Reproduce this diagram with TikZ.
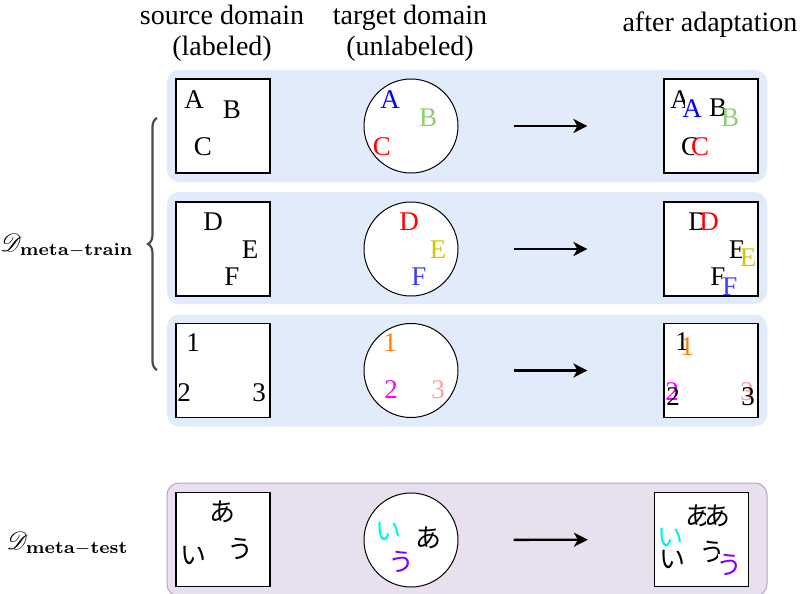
\documentclass[tikz,border=0pt]{standalone}
\usepackage[no-math]{fontspec}
\setmainfont{Liberation Serif}
\newfontfamily\jpfont{Noto Sans CJK JP}
\usepackage{amsmath,mathrsfs}
\usetikzlibrary{arrows.meta,decorations.pathreplacing}
\definecolor{bandblue}{RGB}{226,235,250}
\definecolor{bandviolet}{RGB}{232,224,238}
\definecolor{bandedge}{RGB}{185,162,200}
\definecolor{letgreen}{RGB}{140,208,110}
\definecolor{letyellow}{RGB}{210,200,0}
\definecolor{letblue}{RGB}{60,60,255}
\definecolor{letpink}{RGB}{255,160,160}
\definecolor{letviolet}{RGB}{128,0,255}
\definecolor{letcyan}{RGB}{0,240,240}
\definecolor{letmagenta}{RGB}{255,0,255}
\definecolor{letorange}{RGB}{255,128,0}

\begin{document}
\begin{tikzpicture}[x=1pt, y=-1pt,
    band/.style={
        rectangle, rounded corners=12pt, fill=bandblue,
        minimum width=600pt, minimum height=112pt, inner sep=0pt
    },
    domainbox/.style={
        rectangle, draw, line width=1.2pt, fill=white,
        minimum size=94pt, inner sep=0pt
    },
    domaincirc/.style={
        circle, draw, line width=1pt, fill=white,
        minimum size=94pt, inner sep=0pt
    },
    head/.style={inner sep=0pt, font=\fontsize{28}{31}\selectfont},
    lbl/.style={inner sep=0pt, font=\fontsize{27}{31}\selectfont},
    over/.style={lbl, fill=white, inner xsep=-2.5pt, inner ysep=-1pt},
    jp/.style={inner sep=0pt, font=\fontsize{26}{30}\jpfont},
    jpover/.style={jp, fill=white, inner xsep=-2pt},
    arrow/.style={-{Stealth[length=14pt, width=14pt, inset=4pt]}, line width=2.4pt}
]
\useasboundingbox (0,0) rectangle (801,594);

% Column headings
\node[head, align=center] (hsrc) at (222,33) {source domain\\(labeled)};
\node[head, align=center] (htgt) at (410,33) {target domain\\(unlabeled)};
\node[head] (hadapt) at (710,25) {after adaptation};

% Background bands
\node[band] (band1) at (467,126) {};
\node[band] (band2) at (467,248) {};
\node[band] (band3) at (467,370.5) {};
\node[band, fill=bandviolet, draw=bandedge, line width=1pt, minimum height=113pt] (band4) at (467,539.5) {};

% Row 1
\node[domainbox] (s1) at (223,126) {};
\node[domaincirc] (t1) at (411,126) {};
\node[domainbox] (r1) at (711,126) {};
\node[lbl] at (194,100) {A};
\node[lbl] at (232,110) {B};
\node[lbl] at (203,147) {C};
\node[lbl, text=blue] at (390,100) {A};
\node[lbl, text=letgreen] at (428,118) {B};
\node[lbl, text=red] at (382,147) {C};
\node[lbl] at (680,100) {A};
\node[over, text=blue] at (692,109) {A};
\node[lbl] at (718,108) {B};
\node[over, text=letgreen] at (730,118) {B};
\node[lbl] at (690,147) {C};
\node[over, text=red] at (700,147) {C};

% Row 2
\node[domainbox] (s2) at (223,249) {};
\node[domaincirc] (t2) at (411,249) {};
\node[domainbox] (r2) at (711,249) {};
\node[lbl] at (213,222) {D};
\node[lbl] at (250,250) {E};
\node[lbl] at (232,277) {F};
\node[lbl, text=red] at (409,222) {D};
\node[lbl, text=letyellow] at (438,250) {E};
\node[lbl, text=letblue] at (419,277) {F};
\node[lbl] at (698,222) {D};
\node[over, text=red] at (709,222) {D};
\node[lbl] at (737,250) {E};
\node[over, text=letyellow] at (748,258) {E};
\node[lbl] at (718,277) {F};
\node[over, text=letblue] at (730,287) {F};

% Row 3
\node[domainbox] (s3) at (223,370.5) {};
\node[domaincirc] (t3) at (411,370.5) {};
\node[domainbox] (r3) at (711,370.5) {};
\node[lbl] at (193,343) {1};
\node[lbl] at (184,393) {2};
\node[lbl] at (259,393) {3};
\node[lbl, text=letorange] at (390,343) {1};
\node[lbl, text=letmagenta] at (391,390) {2};
\node[lbl, text=letpink] at (438,390) {3};
\node[lbl] at (682,342) {1};
\node[lbl, text=letorange] at (687,347) {1};
\node[lbl, text=letmagenta] at (672,392) {2};
\node[lbl] at (673,397) {2};
\node[lbl, text=letpink] at (747,392) {3};
\node[lbl] at (748,397) {3};

% Row 4 (test task)
\node[domainbox] (s4) at (223,539.5) {};
\node[domaincirc] (t4) at (411,540) {};
\node[domainbox] (r4) at (701.5,539.5) {};
\node[jp] at (222,512) {あ};
\node[jp] at (193,556) {い};
\node[jp] at (240,549) {う};
\node[jp, text=letcyan] at (388,532) {い};
\node[jp, text=letviolet] at (401,562) {う};
\node[jp] at (428,538) {あ};
\node[jp] at (698,516) {あ};
\node[jpover] at (717,516) {あ};
\node[jp, text=letcyan] at (670,538) {い};
\node[jp] at (672,560) {い};
\node[jp] at (712,552) {う};
\node[jpover, text=letviolet] at (729,565) {う};

% Adaptation arrows
\draw[arrow, shorten <=55pt, shorten >=76pt] (t1) -- (r1);
\draw[arrow, shorten <=55pt, shorten >=76pt] (t2) -- (r2);
\draw[arrow, shorten <=55pt, shorten >=76pt] (t3) -- (r3);
\draw[arrow, shorten <=55pt, shorten >=66pt] (t4) -- (r4);

% Task groups
\coordinate (trainbot) at (157,370);
\coordinate (traintop) at (157,118);
\draw[decorate, decoration={brace, amplitude=9pt}, line width=2.2pt, draw=black!70] (trainbot) -- (traintop);
\node[anchor=east, inner sep=0pt] (trainlbl) at (134,246) {\scalebox{2.5}{$\mathscr{D}_{\mathbf{meta-train}}$}};
\node[anchor=east, inner sep=0pt] (testlbl) at (129,544) {\scalebox{2.5}{$\mathscr{D}_{\mathbf{meta-test}}$}};

\end{tikzpicture}
\end{document}
